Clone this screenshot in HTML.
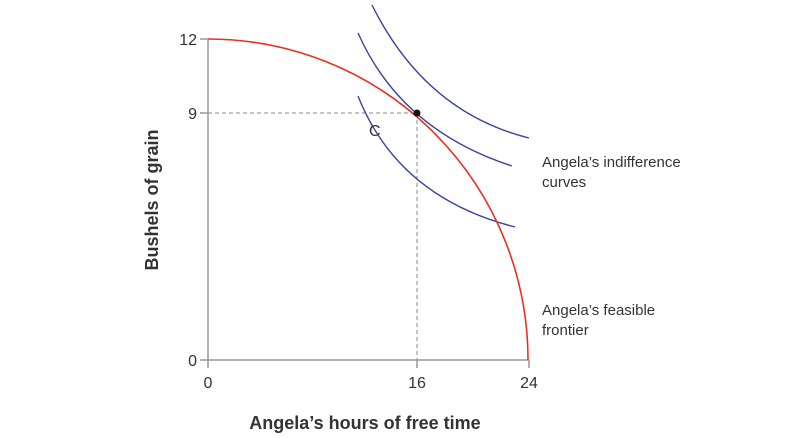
<!DOCTYPE html>
<html><head><style>body{margin:0;background:#fff}</style></head><body>
<svg width="809" height="438" viewBox="0 0 809 438" xmlns="http://www.w3.org/2000/svg" style="display:block;font-family:'Liberation Sans',sans-serif">
<rect width="809" height="438" fill="#fff"/>
<g stroke="#999" stroke-width="1.5" fill="none">
<line x1="208" y1="39" x2="208" y2="360"/>
<line x1="200" y1="360" x2="529" y2="360"/>
<line x1="200" y1="39" x2="208" y2="39"/>
<line x1="200" y1="113" x2="208" y2="113"/>
<line x1="208" y1="360" x2="208" y2="368"/>
<line x1="417" y1="360" x2="417" y2="368"/>
<line x1="529" y1="360" x2="529" y2="368"/>
</g>
<g stroke="#888" stroke-width="1" stroke-dasharray="4,3" fill="none">
<line x1="208" y1="113" x2="417" y2="113"/>
<line x1="417" y1="113" x2="417" y2="360"/>
</g>
<g stroke="#3a44a0" stroke-width="1.4" fill="none">
<path d="M372,5 Q425,112 529,138"/>
<path d="M358,33 Q401,130 512,166"/>
<path d="M358,96 Q398,197 515,227"/>
</g>
<path d="M208,39 A320,321 0 0 1 528,360" stroke="#e53323" stroke-width="1.6" fill="none"/>
<circle cx="417" cy="113" r="3.5" fill="#111"/>
<g fill="#333" font-size="16">
<text x="197" y="45" text-anchor="end">12</text>
<text x="197" y="119" text-anchor="end">9</text>
<text x="197" y="366" text-anchor="end">0</text>
<text x="208" y="388" text-anchor="middle">0</text>
<text x="417" y="388" text-anchor="middle">16</text>
<text x="529" y="388" text-anchor="middle">24</text>
<text x="369" y="136">C</text>
</g>
<g fill="#333" font-size="15">
<text x="542" y="167">Angela’s indifference</text>
<text x="542" y="187">curves</text>
<text x="542" y="315">Angela’s feasible</text>
<text x="542" y="335">frontier</text>
</g>
<g fill="#333" font-size="18" font-weight="bold">
<text x="365" y="429" text-anchor="middle">Angela’s hours of free time</text>
<text transform="translate(158,200) rotate(-90)" text-anchor="middle">Bushels of grain</text>
</g>
</svg>
</body></html>
